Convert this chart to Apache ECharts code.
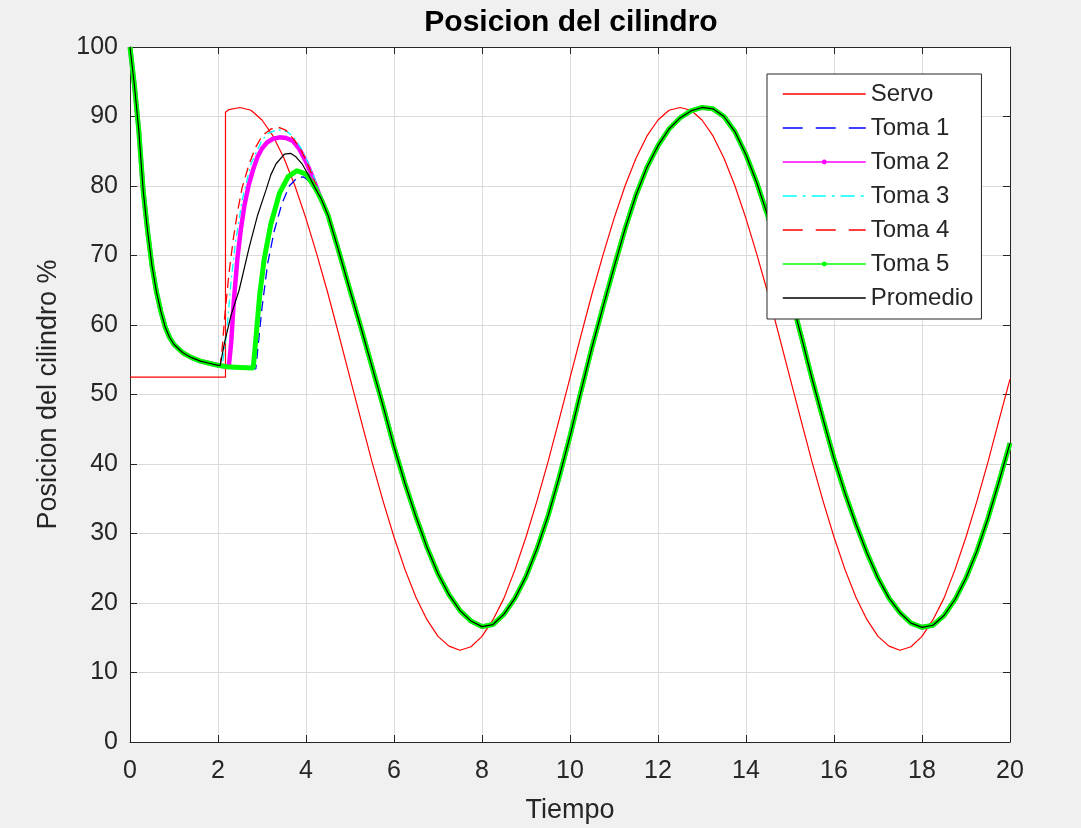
<!DOCTYPE html>
<html>
<head>
    <meta http-equiv=Content-Type content="text/html; charset=utf-8">
    <title>Posicion del cilindro</title>
    <script type="text/javascript" src="https://cdn.jsdelivr.net/npm/echarts@6.0.0/dist/echarts.min.js"></script>
    <style>
        html, body { margin: 0; padding: 0; background: #f0f0f0; }
        #chartmain { width: 1081px; height: 828px; }
    </style>
</head>
<body>
<div id="chartmain"></div>
<script type="text/javascript">
    // tramo inicial comun a todas las tomas (descenso desde 100)
    var tHead = [0, 0.1, 0.2, 0.3, 0.4, 0.5, 0.6, 0.7, 0.8, 0.9, 1.0, 1.2, 1.4, 1.6, 1.8, 2.0];
    var vHead = [100, 94.5, 88, 79.3, 73.5, 68.5, 64.8, 62, 59.7, 58.2, 57.2, 56, 55.3, 54.8, 54.5, 54.2];

    // tramo final comun (todas las tomas coinciden)
    var tTail = [4.5, 4.75, 5, 5.25, 5.5, 5.75, 6, 6.25, 6.5, 6.75, 7, 7.25, 7.5, 7.75, 8, 8.25, 8.5, 8.75,
        9, 9.25, 9.5, 9.75, 10, 10.25, 10.5, 10.75, 11, 11.25, 11.5, 11.75, 12, 12.25, 12.5, 12.75,
        13, 13.25, 13.5, 13.75, 14, 14.25, 14.5, 14.75, 15, 15.25, 15.5, 15.75, 16, 16.25, 16.5, 16.75,
        17, 17.25, 17.5, 17.75, 18, 18.25, 18.5, 18.75, 19, 19.25, 19.5, 19.75, 20];
    var vTail = [75.8, 70.5, 65, 59.6, 54, 48.4, 42.5, 37.2, 32.4, 28, 24.2, 21.2, 18.9, 17.4, 16.6, 16.9, 18.4, 20.7,
        23.8, 27.8, 32.5, 38, 44, 50.5, 56.8, 62.6, 68.3, 73.8, 78.7, 82.7, 85.8, 88.2, 89.8, 90.8,
        91.3, 91.1, 90, 87.8, 84.5, 80.4, 75.6, 70.2, 64.5, 58.5, 52.3, 46.5, 40.8, 35.8, 31.3, 27.2,
        23.6, 20.7, 18.6, 17.1, 16.5, 16.8, 18.2, 20.5, 23.6, 27.5, 32.2, 37.5, 43];

    // servo (referencia)
    var servoT = [0, 2.17, 2.17, 2.25, 2.5, 2.75, 3, 3.25, 3.5, 3.75, 4, 4.25, 4.5, 4.75, 5, 5.25, 5.5, 5.75,
        6, 6.25, 6.5, 6.75, 7, 7.25, 7.5, 7.75, 8, 8.25, 8.5, 8.75, 9, 9.25, 9.5, 9.75, 10, 10.25, 10.5, 10.75,
        11, 11.25, 11.5, 11.75, 12, 12.25, 12.5, 12.75, 13, 13.25, 13.5, 13.75, 14, 14.25, 14.5, 14.75,
        15, 15.25, 15.5, 15.75, 16, 16.25, 16.5, 16.75, 17, 17.25, 17.5, 17.75, 18, 18.25, 18.5, 18.75,
        19, 19.25, 19.5, 19.75, 20];
    var servoV = [52.5, 52.5, 90.6, 91.0, 91.3, 90.9, 89.5, 87.2, 84, 80, 75.3, 70.1, 64.5, 58.5, 52.4, 46.3, 40.3, 34.7,
        29.5, 24.8, 20.8, 17.6, 15.2, 13.8, 13.2, 13.7, 15.2, 17.6, 20.7, 24.8, 29.5, 34.7, 40.3, 46.3, 52.4, 58.5, 64.5, 70.1,
        75.3, 80, 84, 87.2, 89.5, 90.9, 91.3, 90.9, 89.5, 87.2, 84, 80, 75.3, 70.1, 64.5, 58.5,
        52.4, 46.3, 40.3, 34.7, 29.5, 24.8, 20.8, 17.6, 15.2, 13.8, 13.2, 13.7, 15.2, 17.6, 20.7, 24.8,
        29.5, 34.7, 40.3, 46.3, 52.2];

    // transitorio de cada toma entre t=2 y t=4.5
    var toma1T = [2.2, 2.5, 2.86, 2.92, 3.0, 3.13, 3.28, 3.45, 3.62, 3.8, 3.95, 4.1, 4.3];
    var toma1V = [54.0, 53.9, 53.7, 57.5, 62.5, 68.9, 73.6, 77.4, 80, 81.2, 81.3, 80.5, 78.5];
    var toma2T = [2.2, 2.25, 2.3, 2.36, 2.44, 2.52, 2.6, 2.7, 2.8, 2.9, 3.0, 3.12, 3.25, 3.4, 3.55, 3.7, 3.85, 4.0, 4.15, 4.3];
    var toma2V = [54.0, 54.3, 57.5, 63.5, 69.5, 73.8, 77.2, 80.2, 82.4, 84.2, 85.4, 86.3, 86.8, 87, 86.9, 86.5, 85.3, 83.5, 81.3, 78.8];
    var toma3T = [2.1, 2.2, 2.3, 2.4, 2.55, 2.75, 3.0, 3.15, 3.3, 3.45, 3.6, 3.75, 3.9, 4.05, 4.2, 4.35];
    var toma3V = [54.3, 59, 66.5, 72, 78, 83.2, 86.6, 87.6, 88, 88.1, 87.7, 86.8, 85.3, 83.3, 81, 78.4];
    var toma4T = [2.05, 2.1, 2.15, 2.25, 2.35, 2.45, 2.55, 2.7, 2.85, 3.0, 3.2, 3.4, 3.55, 3.75, 3.9, 4.05, 4.2, 4.35];
    var toma4V = [54.2, 57, 61, 67.5, 72.5, 76.5, 79.8, 83, 85.5, 87.2, 88.2, 88.4, 88, 86.5, 85, 83, 80.6, 78.2];
    var toma5T = [2.2, 2.5, 2.8, 2.86, 2.95, 3.05, 3.2, 3.4, 3.6, 3.8, 4.0, 4.2, 4.35];
    var toma5V = [54.0, 53.9, 53.8, 58, 64.5, 69.5, 74.5, 79, 81.4, 82.2, 81.7, 79.8, 78];
    var promT = [2.05, 2.15, 2.3, 2.48, 2.71, 2.9, 3.09, 3.2, 3.32, 3.51, 3.65, 3.77, 3.92, 4.08, 4.2, 4.35];
    var promV = [54.2, 57.5, 61.5, 65, 71.2, 75.8, 79.4, 81.6, 83.2, 84.6, 84.7, 84.2, 83.1, 81.3, 79.8, 78.1];

    var xTicks = {min: 0, max: 20, interval: 2};
    var yTicks = {min: 0, max: 100, interval: 10};

    var FONT = '"Liberation Sans", Arial, Helvetica, sans-serif';
    var AX = '#262626';

    function pares(t, v) {
        var out = [];
        for (var i = 0; i < t.length; i++) {
            out.push([t[i], v[i]]);
        }
        return out;
    }
    function toma(t, v) {
        return pares(tHead, vHead).concat(pares(t, v), pares(tTail, vTail));
    }

    function linea(name, data, color, width, type) {
        return {
            name: name,
            type: 'line',
            data: data,
            symbol: 'none',
            showSymbol: false,
            color: color,
            lineStyle: {color: color, width: width, type: type || 'solid'},
            emphasis: {disabled: true},
            animation: false
        };
    }

    function legendItem(name, dot, type) {
        return {
            name: name,
            itemStyle: {opacity: dot ? 1 : 0, borderWidth: 0},
            lineStyle: {width: 1.5, type: type || 'solid'}
        };
    }

    var myChart = echarts.init(document.getElementById('chartmain'), null, {renderer: 'canvas'});

    var option = {
        backgroundColor: '#f0f0f0',
        animation: false,
        title: {
            text: 'Posicion del cilindro',
            left: 571,
            top: 8,
            padding: 0,
            textAlign: 'center',
            textStyle: {fontFamily: FONT, fontSize: 30, fontWeight: 'bold', color: '#000'}
        },
        legend: {
            orient: 'vertical',
            left: 767,
            top: 74,
            padding: [8, 8, 9, 15],
            itemGap: 10,
            itemWidth: 83,
            itemHeight: 6,
            backgroundColor: '#fff',
            borderColor: AX,
            borderWidth: 1,
            borderRadius: 0,
            selectedMode: false,
            textStyle: {fontFamily: FONT, fontSize: 24, color: AX, lineHeight: 24},
            data: [
                legendItem('Servo', false),
                legendItem('Toma 1', false, [20, 13]),
                legendItem('Toma 2', true),
                legendItem('Toma 3', false, [14, 6, 3, 6]),
                legendItem('Toma 4', false, [20, 13]),
                legendItem('Toma 5', true),
                legendItem('Promedio', false)
            ]
        },
        grid: {
            left: 130, right: 71, top: 47, bottom: 86,
            show: true, backgroundColor: '#fff', borderWidth: 0,
            outerBoundsMode: 'none'
        },
        xAxis: [
            {
                type: 'value', position: 'bottom',
                min: xTicks.min, max: xTicks.max, interval: xTicks.interval,
                name: 'Tiempo', nameLocation: 'middle', nameGap: 55,
                nameTextStyle: {fontFamily: FONT, fontSize: 27, color: AX},
                axisLine: {onZero: false, lineStyle: {color: AX, width: 1}},
                axisTick: {inside: true, length: 7, lineStyle: {color: AX}},
                axisLabel: {fontFamily: FONT, fontSize: 25, color: AX, margin: 17},
                splitLine: {show: true, lineStyle: {color: '#dadada', width: 1}}
            },
            {
                type: 'value', position: 'top',
                min: xTicks.min, max: xTicks.max, interval: xTicks.interval,
                axisLine: {onZero: false, lineStyle: {color: AX, width: 1}},
                axisTick: {inside: true, length: 7, lineStyle: {color: AX}},
                axisLabel: {show: false},
                splitLine: {show: false}
            }
        ],
        yAxis: [
            {
                type: 'value', position: 'left',
                min: yTicks.min, max: yTicks.max, interval: yTicks.interval,
                name: 'Posicion del cilindro %', nameLocation: 'middle', nameGap: 68,
                nameTextStyle: {fontFamily: FONT, fontSize: 27, color: AX},
                axisLine: {show: true, onZero: false, lineStyle: {color: AX, width: 1}},
                axisTick: {show: true, inside: true, length: 7, lineStyle: {color: AX}},
                axisLabel: {fontFamily: FONT, fontSize: 25, color: AX, margin: 12},
                splitLine: {show: true, lineStyle: {color: '#dadada', width: 1}}
            },
            {
                type: 'value', position: 'right',
                min: yTicks.min, max: yTicks.max, interval: yTicks.interval,
                axisLine: {show: true, onZero: false, lineStyle: {color: AX, width: 1}},
                axisTick: {show: true, inside: true, length: 7, lineStyle: {color: AX}},
                axisLabel: {show: false},
                splitLine: {show: false}
            }
        ],
        series: [
            linea('Servo', pares(servoT, servoV), '#ff0000', 1.2),
            linea('Toma 1', toma(toma1T, toma1V), '#0000ff', 1.3, [10, 6]),
            linea('Toma 2', toma(toma2T, toma2V), '#ff00ff', 4.5),
            linea('Toma 3', toma(toma3T, toma3V), '#00ffff', 1.3, [8, 4, 2, 4]),
            linea('Toma 4', toma(toma4T, toma4V), '#ff0000', 1.3, [10, 6]),
            linea('Toma 5', toma(toma5T, toma5V), '#00ff00', 5),
            linea('Promedio', toma(promT, promV), '#000000', 1.2)
        ]
    };
    myChart.setOption(option);
</script>
</body>
</html>
